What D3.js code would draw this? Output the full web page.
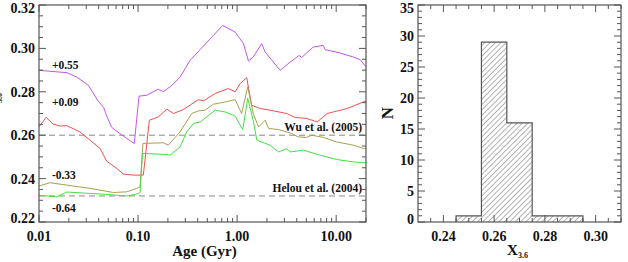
<!DOCTYPE html>
<html><head><meta charset="utf-8">
<script src="https://cdn.jsdelivr.net/npm/d3@7"></script>
<style>
body{margin:0;background:#fff;}
svg{display:block;}
text{font-family:"Liberation Serif","DejaVu Serif",serif;font-weight:bold;fill:#111;}
</style></head>
<body><svg id="c" width="628" height="262"></svg>
<script>
// ---- data: left panel (age in Gyr, X3.6) ----
const purple = [[0.01,0.2899],[0.0192,0.2888],[0.024,0.2868],[0.0315,0.283],[0.039,0.2761],[0.045,0.2727],[0.0476,0.2695],[0.054,0.2637],[0.0658,0.2607],[0.0889,0.2565],[0.0916,0.2562],[0.1023,0.278],[0.1224,0.2784],[0.16,0.2812],[0.18,0.28],[0.22,0.283],[0.2656,0.2868],[0.335,0.2945],[0.423,0.2994],[0.576,0.306],[0.715,0.3106],[0.955,0.3075],[1.16,0.3022],[1.30,0.2942],[1.45,0.296],[1.77,0.3022],[1.92,0.2983],[2.72,0.2899],[3.43,0.2937],[4.24,0.2968],[4.48,0.2958],[5.86,0.3006],[7.4,0.3014],[7.74,0.2994],[10.97,0.2979],[14.9,0.296],[17.5,0.2948],[20,0.2914]];
const red = [[0.01,0.2638],[0.0118,0.2682],[0.0139,0.2651],[0.0163,0.2642],[0.0191,0.2644],[0.0259,0.2615],[0.0327,0.2577],[0.0413,0.2539],[0.0483,0.248],[0.061,0.2447],[0.071,0.2421],[0.0896,0.2416],[0.113,0.2416],[0.1205,0.2531],[0.13,0.2669],[0.16,0.2684],[0.195,0.272],[0.228,0.27],[0.286,0.2718],[0.406,0.2764],[0.457,0.2758],[0.6,0.2792],[0.813,0.2815],[0.955,0.28],[1.072,0.2838],[1.25,0.2865],[1.40,0.2738],[1.707,0.2723],[2.154,0.2715],[3.17,0.27],[3.85,0.2682],[5.05,0.2677],[6.43,0.2661],[8.1,0.27],[12.9,0.2723],[18.8,0.2753],[20,0.2757]];
const olive = [[0.01,0.2366],[0.0129,0.2381],[0.0191,0.237],[0.0327,0.2355],[0.0564,0.2336],[0.0768,0.2339],[0.097,0.2355],[0.1047,0.2362],[0.112,0.2562],[0.18,0.2565],[0.202,0.2554],[0.2656,0.2615],[0.348,0.27],[0.406,0.2712],[0.475,0.2715],[0.576,0.2743],[0.757,0.2753],[0.955,0.2764],[1.11,0.27],[1.28,0.2823],[1.46,0.2697],[1.65,0.2638],[1.92,0.2669],[2.08,0.2631],[2.61,0.2626],[3.54,0.2608],[4.13,0.2592],[5.03,0.259],[5.65,0.26],[7.4,0.259],[10.1,0.2569],[14.9,0.2554],[18.8,0.2539],[20,0.2539]];
const green = [[0.01,0.2323],[0.0151,0.2316],[0.0191,0.2338],[0.0413,0.2329],[0.0768,0.232],[0.097,0.2329],[0.1047,0.2335],[0.111,0.2516],[0.196,0.2511],[0.21,0.2508],[0.2656,0.2546],[0.31,0.2615],[0.362,0.2654],[0.423,0.2661],[0.6,0.2715],[0.757,0.2707],[0.955,0.2688],[1.14,0.2625],[1.28,0.277],[1.46,0.2665],[1.58,0.2577],[2.154,0.2554],[2.61,0.2523],[3.17,0.2537],[3.43,0.2523],[4.67,0.2531],[6.89,0.2508],[10.1,0.2488],[14.9,0.2477],[20,0.2473]];
const seriesNames = ["+0.55","+0.09","-0.33","-0.64"];
const seriesColors = ["#c455ee","#f05050","#a8a050","#44e044"];
const refLines = [0.26, 0.232];
const refLabels = ["Wu et al. (2005)","Helou et al. (2004)"];
const ageTicks = [0.01,0.1,1,10];
const ageTickLabels = ["0.01","0.10","1.00","10.00"];
const xTicksLeftY = [0.22,0.24,0.26,0.28,0.30,0.32];
// ---- data: right panel histogram ----
const binEdges = [0.245,0.255,0.265,0.275,0.285,0.295];
const binCounts = [1,29,16,1,1];
const histXTicks = [0.24,0.26,0.28,0.30];
const histYTicks = [0,5,10,15,20,25,30,35];

const svg = d3.select("#c");
const L = {x0:39,x1:366,y0:5,y1:222};
const R = {x0:418,x1:621,y0:5,y1:222};

// hatch pattern
const defs = svg.append("defs");
const pat = defs.append("pattern").attr("id","hatch").attr("patternUnits","userSpaceOnUse")
  .attr("width",3.8).attr("height",3.8).attr("patternTransform","rotate(45)");
pat.append("line").attr("x1",0).attr("y1",0).attr("x2",0).attr("y2",3.8).attr("stroke","#555").attr("stroke-width",0.9);

// ===== left panel =====
const xL = d3.scaleLog().domain([0.01,20]).range([L.x0,L.x1]);
const yL = d3.scaleLinear().domain([0.22,0.32]).range([L.y1,L.y0]);
const gL = svg.append("g");

refLines.forEach((v,i)=>{
  gL.append("line").attr("x1",L.x0).attr("x2",L.x1).attr("y1",yL(v)).attr("y2",yL(v))
    .attr("stroke","#888").attr("stroke-width",1).attr("stroke-dasharray","6,4");
});
const line = d3.line().x(d=>xL(d[0])).y(d=>yL(d[1]));
[purple,red,olive,green].forEach((s,i)=>{
  gL.append("path").datum(s).attr("d",line).attr("fill","none").attr("stroke",seriesColors[i]).attr("stroke-width",1);
});

function frame(g,b){
  g.append("rect").attr("x",b.x0).attr("y",b.y0).attr("width",b.x1-b.x0).attr("height",b.y1-b.y0)
   .attr("fill","none").attr("stroke","#555").attr("stroke-width",1.2);
}
frame(gL,L);

const minorAges = [];
for(let dec=0.01; dec<20; dec*=10){ for(let k=2;k<=9;k++){ const v=+(dec*k).toPrecision(3); if(v<=20) minorAges.push(v);} }
function ticksX(g,scale,b,major,minor,majLen,minLen){
  const grp = g.append("g").attr("stroke","#555").attr("stroke-width",1);
  major.forEach(v=>{const x=scale(v);
    grp.append("line").attr("x1",x).attr("x2",x).attr("y1",b.y1).attr("y2",b.y1-majLen);
    grp.append("line").attr("x1",x).attr("x2",x).attr("y1",b.y0).attr("y2",b.y0+majLen);});
  minor.forEach(v=>{const x=scale(v);
    grp.append("line").attr("x1",x).attr("x2",x).attr("y1",b.y1).attr("y2",b.y1-minLen);
    grp.append("line").attr("x1",x).attr("x2",x).attr("y1",b.y0).attr("y2",b.y0+minLen);});
}
function ticksY(g,scale,b,major,minor,majLen,minLen){
  const grp = g.append("g").attr("stroke","#555").attr("stroke-width",1);
  major.forEach(v=>{const y=scale(v);
    grp.append("line").attr("y1",y).attr("y2",y).attr("x1",b.x0).attr("x2",b.x0+majLen);
    grp.append("line").attr("y1",y).attr("y2",y).attr("x1",b.x1).attr("x2",b.x1-majLen);});
  minor.forEach(v=>{const y=scale(v);
    grp.append("line").attr("y1",y).attr("y2",y).attr("x1",b.x0).attr("x2",b.x0+minLen);
    grp.append("line").attr("y1",y).attr("y2",y).attr("x1",b.x1).attr("x2",b.x1-minLen);});
}
ticksX(gL,xL,L,ageTicks,minorAges,7,4);
const yLminor = d3.range(0.225,0.32,0.005).filter(v=>Math.abs(v*50-Math.round(v*50))>1e-6);
ticksY(gL,yL,L,xTicksLeftY,yLminor,7,4);

ageTicks.forEach((v,i)=>{
  gL.append("text").attr("x",xL(v)).attr("y",L.y1+19).attr("text-anchor","middle").attr("font-size",14).text(ageTickLabels[i]);
});
xTicksLeftY.forEach(v=>{
  let y=yL(v); if(v===0.32) y+=3; if(v===0.22) y-=4;
  gL.append("text").attr("x",L.x0-4).attr("y",y).attr("dy","0.35em").attr("text-anchor","end").attr("font-size",14).text(v.toFixed(2));
});
gL.append("text").attr("x",(L.x0+L.x1)/2+2).attr("y",256).attr("text-anchor","middle").attr("font-size",15).text("Age (Gyr)");
// y title (mostly cut off in the reference)
const yt = gL.append("text").attr("transform","translate(-1,103) rotate(-90)").attr("text-anchor","middle").attr("font-size",14);
yt.append("tspan").text("X");
yt.append("tspan").attr("font-size",8).attr("dy",3).text("3.6");

const lblPos = [[0.0135,0.2925],[0.0135,0.2755],[0.0135,0.2415],[0.0135,0.2265]];
seriesNames.forEach((n,i)=>{
  gL.append("text").attr("x",xL(lblPos[i][0])).attr("y",yL(lblPos[i][1])).attr("dy","0.35em").attr("font-size",11.5).text(n);
});
refLabels.forEach((n,i)=>{
  gL.append("text").attr("x",L.x1-4).attr("y",yL(refLines[i])-4).attr("text-anchor","end").attr("font-size",11.5).text(n);
});

// ===== right panel =====
const xR = d3.scaleLinear().domain([0.23,0.31]).range([R.x0,R.x1]);
const yR = d3.scaleLinear().domain([0,35]).range([R.y1,R.y0]);
const gR = svg.append("g");
const bins = binCounts.map((c,i)=>({x0:binEdges[i],x1:binEdges[i+1],c}));
gR.selectAll("rect.bar").data(bins).join("rect").attr("class","bar")
  .attr("x",d=>xR(d.x0)).attr("width",d=>xR(d.x1)-xR(d.x0))
  .attr("y",d=>yR(d.c)).attr("height",d=>yR(0)-yR(d.c))
  .attr("fill","url(#hatch)");
const outline = [];
bins.forEach((d,i)=>{ if(i===0) outline.push([d.x0,0]); outline.push([d.x0,d.c]); outline.push([d.x1,d.c]); });
outline.push([binEdges[binEdges.length-1],0]);
gR.append("path").datum(outline).attr("d",d3.line().x(d=>xR(d[0])).y(d=>yR(d[1])))
  .attr("fill","none").attr("stroke","#555").attr("stroke-width",1.2);
frame(gR,R);
const rxMinor = d3.range(0.235,0.31,0.005).filter(v=>Math.abs(v*50-Math.round(v*50))>1e-6);
ticksX(gR,xR,R,histXTicks,rxMinor,7,4);
const ryMinor = d3.range(1,35,1).filter(v=>v%5!==0);
ticksY(gR,yR,R,histYTicks,ryMinor,7,4);
histXTicks.forEach(v=>{
  gR.append("text").attr("x",xR(v)).attr("y",R.y1+19).attr("text-anchor","middle").attr("font-size",14).text(v.toFixed(2));
});
histYTicks.forEach(v=>{
  let y=yR(v); if(v===35) y+=3; if(v===0) y-=3;
  gR.append("text").attr("x",R.x0-4).attr("y",y).attr("dy","0.35em").attr("text-anchor","end").attr("font-size",14).text(v);
});
gR.append("text").attr("transform","translate(393,113) rotate(-90)").attr("text-anchor","middle").attr("font-size",17).text("N");
const xt = gR.append("text").attr("x",(R.x0+R.x1)/2-2).attr("y",255).attr("text-anchor","middle").attr("font-size",15);
xt.append("tspan").text("X");
xt.append("tspan").attr("font-size",8).attr("dy",3).text("3.6");
</script></body></html>
